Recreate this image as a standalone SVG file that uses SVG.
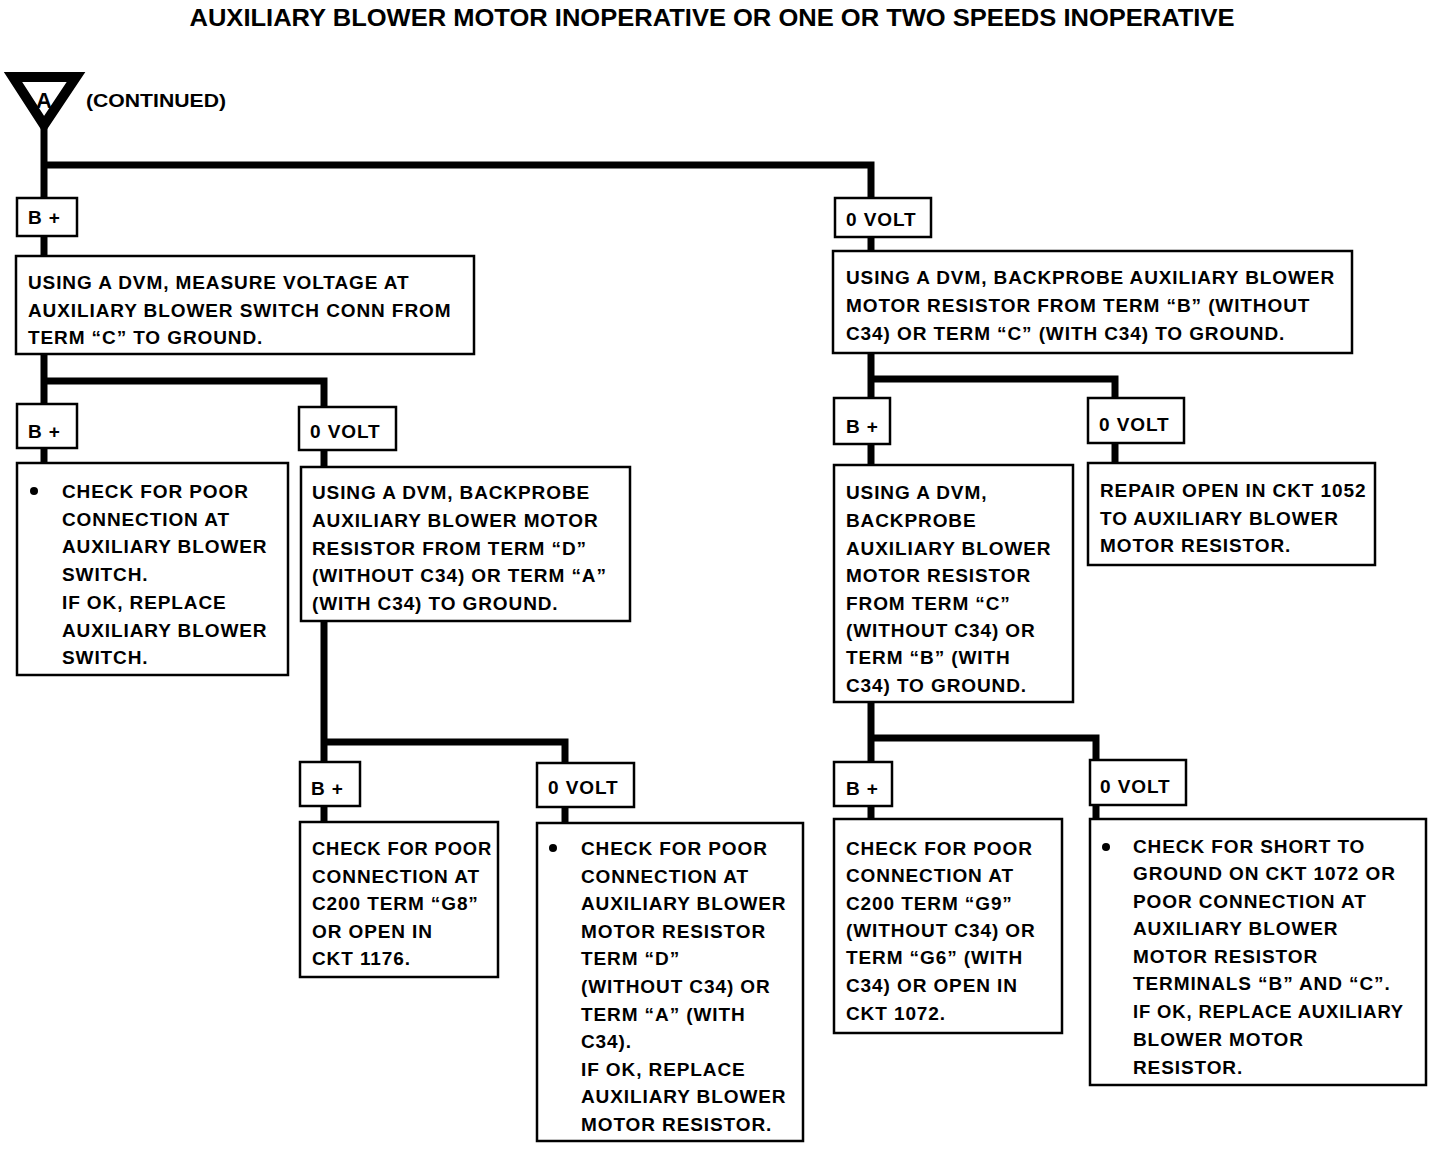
<svg xmlns="http://www.w3.org/2000/svg" width="1440" height="1150" viewBox="0 0 1440 1150">
<style>
text{font-family:"Liberation Sans",Arial,sans-serif;font-weight:bold;fill:#000}
.t{font-size:19px;letter-spacing:0.9px}
.lbl{font-size:19px;letter-spacing:0.9px}
.box{fill:#fff;stroke:#000;stroke-width:2.5}
.wire{fill:none;stroke:#000;stroke-width:7;stroke-linejoin:miter}
</style>
<rect width="1440" height="1150" fill="#fff"/>
<text x="712" y="26" font-size="24" text-anchor="middle" textLength="1045" lengthAdjust="spacingAndGlyphs">AUXILIARY BLOWER MOTOR INOPERATIVE OR ONE OR TWO SPEEDS INOPERATIVE</text>

<g id="connectors">
<path class="wire" d="M44,128 V198"/>
<path class="wire" d="M44,165 H871 V198"/>
<path class="wire" d="M44,236 V256"/>
<path class="wire" d="M871,237 V251"/>
<path class="wire" d="M44,354 V404 M44,381 H324 V407"/>
<path class="wire" d="M44,448 V463"/>
<path class="wire" d="M324,450 V467"/>
<path class="wire" d="M324,621 V762 M324,742 H565 V763"/>
<path class="wire" d="M324,806 V822"/>
<path class="wire" d="M565,807 V823"/>
<path class="wire" d="M871,353 V398 M871,379 H1115 V398"/>
<path class="wire" d="M871,444 V465"/>
<path class="wire" d="M1115,443 V463"/>
<path class="wire" d="M871,702 V762 M871,738 H1096 V760"/>
<path class="wire" d="M871,806 V819"/>
<path class="wire" d="M1096,805 V819"/>
</g>

<g id="start">
<polygon points="13,77 76,77 44,125" fill="#fff" stroke="#000" stroke-width="10" stroke-linejoin="miter"/>
<text x="44" y="108" font-size="22" text-anchor="middle">A</text>
<text x="86" y="107" font-size="19" textLength="140" lengthAdjust="spacingAndGlyphs">(CONTINUED)</text>
</g>

<g id="n_bplus1"><rect class="box" x="17" y="198" width="60" height="38"/><text class="lbl" x="28" y="224">B +</text></g>
<g id="n_0volt1"><rect class="box" x="835" y="198" width="96" height="39"/><text class="lbl" x="846" y="226">0 VOLT</text></g>

<g id="n_measure">
<rect class="box" x="16" y="256" width="458" height="98"/>
<text class="t" x="28" y="289">USING A DVM, MEASURE VOLTAGE AT</text>
<text class="t" x="28" y="317">AUXILIARY BLOWER SWITCH CONN FROM</text>
<text class="t" x="28" y="344">TERM “C” TO GROUND.</text>
</g>

<g id="n_backprobe_bc">
<rect class="box" x="833" y="251" width="519" height="102"/>
<text class="t" x="846" y="284">USING A DVM, BACKPROBE AUXILIARY BLOWER</text>
<text class="t" x="846" y="312">MOTOR RESISTOR FROM TERM “B” (WITHOUT</text>
<text class="t" x="846" y="340">C34) OR TERM “C” (WITH C34) TO GROUND.</text>
</g>

<g id="n_bplus2"><rect class="box" x="17" y="404" width="60" height="44"/><text class="lbl" x="28" y="438">B +</text></g>
<g id="n_0volt2"><rect class="box" x="299" y="407" width="97" height="43"/><text class="lbl" x="310" y="438">0 VOLT</text></g>
<g id="n_bplus3"><rect class="box" x="834" y="398" width="56" height="46"/><text class="lbl" x="846" y="433">B +</text></g>
<g id="n_0volt3"><rect class="box" x="1088" y="398" width="96" height="45"/><text class="lbl" x="1099" y="431">0 VOLT</text></g>

<g id="n_check_switch">
<rect class="box" x="17" y="463" width="271" height="212"/>
<circle cx="34" cy="491" r="4"/>
<text class="t" x="62" y="498">CHECK FOR POOR</text>
<text class="t" x="62" y="526">CONNECTION AT</text>
<text class="t" x="62" y="553">AUXILIARY BLOWER</text>
<text class="t" x="62" y="581">SWITCH.</text>
<text class="t" x="62" y="609">IF OK, REPLACE</text>
<text class="t" x="62" y="637">AUXILIARY BLOWER</text>
<text class="t" x="62" y="664">SWITCH.</text>
</g>

<g id="n_backprobe_da">
<rect class="box" x="301" y="467" width="329" height="154"/>
<text class="t" x="312" y="499">USING A DVM, BACKPROBE</text>
<text class="t" x="312" y="527">AUXILIARY BLOWER MOTOR</text>
<text class="t" x="312" y="555">RESISTOR FROM TERM “D”</text>
<text class="t" x="312" y="582">(WITHOUT C34) OR TERM “A”</text>
<text class="t" x="312" y="610">(WITH C34) TO GROUND.</text>
</g>

<g id="n_backprobe_cb">
<rect class="box" x="834" y="465" width="239" height="237"/>
<text class="t" x="846" y="499">USING A DVM,</text>
<text class="t" x="846" y="527">BACKPROBE</text>
<text class="t" x="846" y="555">AUXILIARY BLOWER</text>
<text class="t" x="846" y="582">MOTOR RESISTOR</text>
<text class="t" x="846" y="610">FROM TERM “C”</text>
<text class="t" x="846" y="637">(WITHOUT C34) OR</text>
<text class="t" x="846" y="664">TERM “B” (WITH</text>
<text class="t" x="846" y="692">C34) TO GROUND.</text>
</g>

<g id="n_repair">
<rect class="box" x="1088" y="463" width="287" height="102"/>
<text class="t" x="1100" y="497">REPAIR OPEN IN CKT 1052</text>
<text class="t" x="1100" y="525">TO AUXILIARY BLOWER</text>
<text class="t" x="1100" y="552">MOTOR  RESISTOR.</text>
</g>

<g id="n_bplus4"><rect class="box" x="300" y="762" width="60" height="44"/><text class="lbl" x="311" y="795">B +</text></g>
<g id="n_0volt4"><rect class="box" x="537" y="763" width="97" height="44"/><text class="lbl" x="548" y="794">0 VOLT</text></g>
<g id="n_bplus5"><rect class="box" x="834" y="762" width="58" height="44"/><text class="lbl" x="846" y="795">B +</text></g>
<g id="n_0volt5"><rect class="box" x="1090" y="760" width="96" height="45"/><text class="lbl" x="1100" y="793">0 VOLT</text></g>

<g id="n_check_g8">
<rect class="box" x="300" y="822" width="198" height="155"/>
<text class="t" x="312" y="855" textLength="180" lengthAdjust="spacingAndGlyphs">CHECK FOR POOR</text>
<text class="t" x="312" y="883">CONNECTION AT</text>
<text class="t" x="312" y="910">C200 TERM “G8”</text>
<text class="t" x="312" y="938">OR OPEN IN</text>
<text class="t" x="312" y="965">CKT 1176.</text>
</g>

<g id="n_check_resistor_d">
<rect class="box" x="537" y="823" width="266" height="318"/>
<circle cx="553" cy="848" r="4"/>
<text class="t" x="581" y="855">CHECK FOR POOR</text>
<text class="t" x="581" y="883">CONNECTION AT</text>
<text class="t" x="581" y="910">AUXILIARY BLOWER</text>
<text class="t" x="581" y="938">MOTOR RESISTOR</text>
<text class="t" x="581" y="965">TERM “D”</text>
<text class="t" x="581" y="993">(WITHOUT C34) OR</text>
<text class="t" x="581" y="1021">TERM “A” (WITH</text>
<text class="t" x="581" y="1048">C34).</text>
<text class="t" x="581" y="1076">IF OK, REPLACE</text>
<text class="t" x="581" y="1103">AUXILIARY BLOWER</text>
<text class="t" x="581" y="1131">MOTOR RESISTOR.</text>
</g>

<g id="n_check_g9">
<rect class="box" x="834" y="819" width="228" height="214"/>
<text class="t" x="846" y="855">CHECK FOR POOR</text>
<text class="t" x="846" y="882">CONNECTION AT</text>
<text class="t" x="846" y="910">C200 TERM “G9”</text>
<text class="t" x="846" y="937">(WITHOUT C34) OR</text>
<text class="t" x="846" y="964">TERM “G6” (WITH</text>
<text class="t" x="846" y="992">C34) OR OPEN IN</text>
<text class="t" x="846" y="1020">CKT 1072.</text>
</g>

<g id="n_check_short">
<rect class="box" x="1090" y="819" width="336" height="266"/>
<circle cx="1106" cy="847" r="4"/>
<text class="t" x="1133" y="853">CHECK FOR SHORT TO</text>
<text class="t" x="1133" y="880">GROUND ON CKT 1072 OR</text>
<text class="t" x="1133" y="908">POOR CONNECTION AT</text>
<text class="t" x="1133" y="935">AUXILIARY BLOWER</text>
<text class="t" x="1133" y="963">MOTOR RESISTOR</text>
<text class="t" x="1133" y="990">TERMINALS  “B” AND “C”.</text>
<text class="t" x="1133" y="1018" textLength="271" lengthAdjust="spacingAndGlyphs">IF OK, REPLACE AUXILIARY</text>
<text class="t" x="1133" y="1046">BLOWER MOTOR</text>
<text class="t" x="1133" y="1074">RESISTOR.</text>
</g>
</svg>
